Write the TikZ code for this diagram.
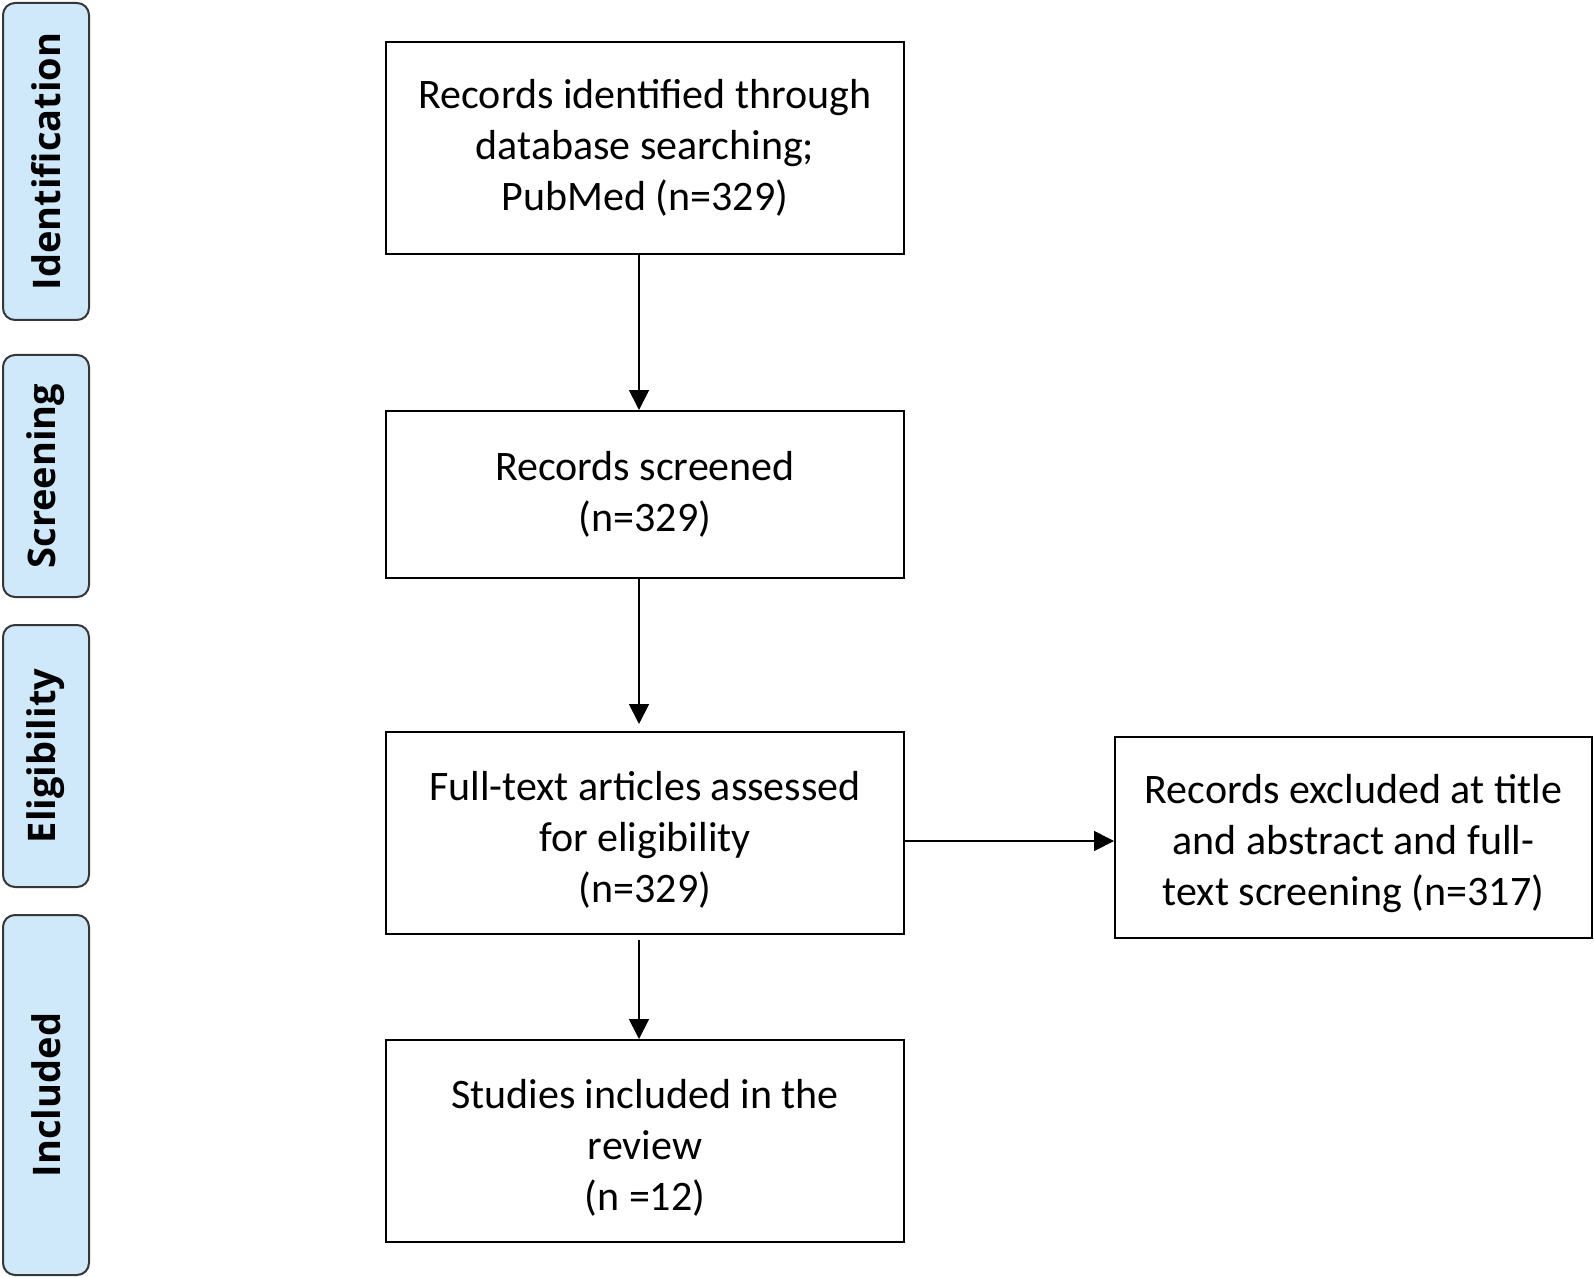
\documentclass[tikz,border=0pt]{standalone}
\usepackage{fontspec}
\setmainfont{Carlito}
\newfontfamily\stagefont{Open Sans}
\usetikzlibrary{arrows.meta}

\definecolor{stageblue}{RGB}{207,232,250}
\definecolor{stageline}{RGB}{55,55,55}
\newcommand{\toppad}{\rule{0pt}{21pt}}

\begin{document}
\begin{tikzpicture}[x=0.5pt,y=-0.5pt,
  flowbox/.style={draw=black,line width=1pt,minimum width=259pt,align=center,
    font=\fontsize{21}{25.5}\selectfont,inner sep=0pt},
  stagebox/.style={draw=stageline,fill=stageblue,line width=1pt,rounded corners=6pt,
    rotate=90,minimum height=43pt,inner sep=0pt,
    font=\stagefont\bfseries\fontsize{19}{23}\selectfont},
  arr/.style={-{Triangle[length=10pt,width=10pt]},line width=0.9pt}]
\useasboundingbox (0,0) rectangle (1594,1278);

% Stage labels
\node (sIdent) at (46,161.5) [stagebox,minimum width=158.5pt] {Identification};
\node (sScreen) at (46,476) [stagebox,minimum width=121pt] {Screening};
\node (sElig) at (46,756) [stagebox,minimum width=131pt] {Eligibility};
\node (sIncl) at (46,1095) [stagebox,minimum width=180pt] {Included};

% Flow boxes
\node (ident) at (645,148) [flowbox,minimum height=106pt]
  {Records identified through\\database searching;\\PubMed (n=329)};
\node (screen) at (645,494.5) [flowbox,minimum height=83.5pt]
  {Records screened\\(n=329)};
\node (elig) at (645,833) [flowbox,minimum height=101pt]
  {\toppad Full-text articles assessed\\for eligibility\\(n=329)};
\node (incl) at (645,1141) [flowbox,minimum height=101pt]
  {\toppad Studies included in the\\review\\(n =12)};
\node (excl) at (1353.5,837.5) [flowbox,minimum width=238.5pt,minimum height=100.5pt]
  {\toppad Records excluded at title\\and abstract and full-\\text screening (n=317)};

% Connectors
\draw[arr] ([xshift=-3pt]ident.south) -- ([xshift=-3pt]screen.north);
\draw[arr,shorten >=3.5pt] ([xshift=-3pt]screen.south) -- ([xshift=-3pt]elig.north);
\draw[arr,shorten <=2.5pt] ([xshift=-3pt]elig.south) -- ([xshift=-3pt]incl.north);
\draw[arr] ([yshift=-4pt]elig.east) -- ([yshift=-4pt]elig.east -| excl.west);

\end{tikzpicture}
\end{document}
